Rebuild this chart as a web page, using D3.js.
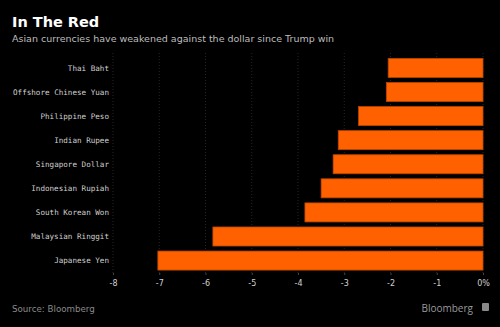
<!DOCTYPE html>
<html>
<head>
<meta charset="utf-8">
<script src="https://cdn.jsdelivr.net/npm/d3@7"></script>
<style>
	body { margin: 0; background: #000; }
	svg { display: block; }
</style>
</head>
<body>
<div id="wrapper"></div>
<script>
// Data
const currencies = [
	'Thai Baht',
	'Offshore Chinese Yuan',
	'Philippine Peso',
	'Indian Rupee',
	'Singapore Dollar',
	'Indonesian Rupiah',
	'South Korean Won',
	'Malaysian Ringgit',
	'Japanese Yen'
]
const changes = [-2.05, -2.09, -2.69, -3.13, -3.24, -3.50, -3.85, -5.84, -7.03]
const tickValues = [-8, -7, -6, -5, -4, -3, -2, -1, 0]

function drawChart() {
	const dimensions = {
		width: 500,
		height: 327,
		margin: { top: 56, right: 17, bottom: 54, left: 113 }
	}
	dimensions.boundedWidth = dimensions.width - dimensions.margin.left - dimensions.margin.right
	dimensions.boundedHeight = dimensions.height - dimensions.margin.top - dimensions.margin.bottom

	const wrapper = d3.select('#wrapper')
		.append('svg')
			.attr('width', dimensions.width)
			.attr('height', dimensions.height)
			.style('background', '#000')

	// Title
	wrapper.append('text')
		.attr('x', 12)
		.attr('y', 27)
		.attr('fill', '#fff')
		.attr('font-family', '"DejaVu Sans", sans-serif')
		.attr('font-weight', 'bold')
		.attr('font-size', '14.5px')
		.text('In The Red')

	wrapper.append('text')
		.attr('x', 12)
		.attr('y', 42)
		.attr('fill', '#bdbdbd')
		.attr('font-family', '"DejaVu Sans", sans-serif')
		.attr('font-size', '9.5px')
		.text('Asian currencies have weakened against the dollar since Trump win')

	const bounds = wrapper.append('g')
		.attr('transform', `translate(${dimensions.margin.left}, ${dimensions.margin.top})`)

	// Scales
	const xScale = d3.scaleLinear()
		.domain([-8, 0])
		.range([0, dimensions.boundedWidth])

	const yScale = d3.scaleBand()
		.domain(currencies)
		.range([0, dimensions.boundedHeight - 0.5])
		.paddingInner(0.21)
		.paddingOuter(0.1)

	// Gridlines
	bounds.append('g')
		.selectAll('line')
		.data(tickValues)
		.join('line')
			.attr('x1', d => xScale(d))
			.attr('x2', d => xScale(d))
			.attr('y1', -3)
			.attr('y2', dimensions.boundedHeight)
			.attr('stroke', '#262626')
			.attr('stroke-width', 1)
			.attr('stroke-dasharray', '1,2')

	// Bars
	bounds.append('g')
		.selectAll('rect')
		.data(currencies)
		.join('rect')
			.attr('x', (d, i) => xScale(changes[i]))
			.attr('width', (d, i) => xScale(0) - xScale(changes[i]))
			.attr('y', d => yScale(d))
			.attr('height', yScale.bandwidth())
			.attr('fill', '#ff6100')
			.attr('stroke', '#b84600')
			.attr('stroke-width', 0.8)

	// Category labels
	bounds.append('g')
		.selectAll('text')
		.data(currencies)
		.join('text')
			.attr('x', -4)
			.attr('y', d => yScale(d) + yScale.bandwidth() / 2)
			.attr('dy', '0.35em')
			.attr('text-anchor', 'end')
			.attr('fill', '#d0d0d0')
			.attr('font-family', '"DejaVu Sans Mono", monospace')
			.attr('font-size', '7.6px')
			.text(d => d)

	// X axis
	const xAxis = d3.axisBottom(xScale)
		.tickValues(tickValues)
		.tickSize(2)
		.tickPadding(5)
		.tickFormat(d => d === 0 ? '0%' : d)

	const xAxisGroup = bounds.append('g')
		.attr('transform', `translate(0, ${dimensions.boundedHeight})`)
		.call(xAxis)
	xAxisGroup.select('.domain').remove()
	xAxisGroup.selectAll('line').attr('stroke', '#444')
	xAxisGroup.selectAll('text')
		.attr('fill', '#d0d0d0')
		.attr('font-family', '"DejaVu Sans", sans-serif')
		.attr('font-size', '8px')

	// Footer
	wrapper.append('text')
		.attr('x', 12)
		.attr('y', 312)
		.attr('fill', '#8a8a8a')
		.attr('font-family', '"DejaVu Sans", sans-serif')
		.attr('font-size', '8.7px')
		.text('Source: Bloomberg')

	wrapper.append('text')
		.attr('x', 473)
		.attr('y', 312)
		.attr('text-anchor', 'end')
		.attr('fill', '#9a9a9a')
		.attr('font-family', '"Open Sans", sans-serif')
		.attr('font-size', '10px')
		.text('Bloomberg')

	wrapper.append('rect')
		.attr('x', 482)
		.attr('y', 303)
		.attr('width', 7)
		.attr('height', 8)
		.attr('rx', 1)
		.attr('fill', '#8a8a8a')
}
drawChart()
</script>
</body>
</html>
